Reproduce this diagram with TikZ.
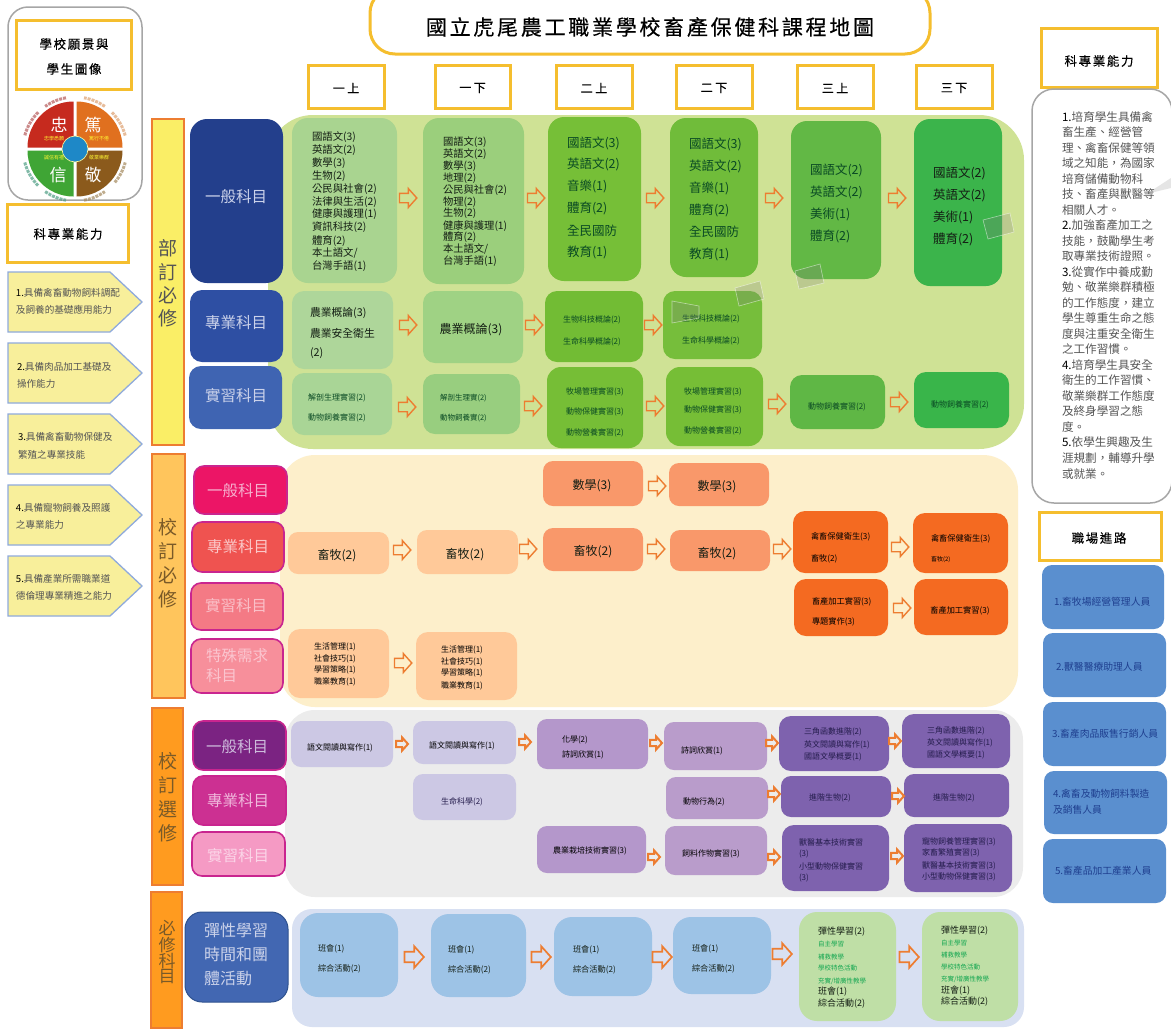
\documentclass[tikz,border=0pt]{standalone}
\usepackage{fontspec}
\setmainfont{Noto Sans CJK TC}
\definecolor{yb}{HTML}{F5BE2E}
\definecolor{og}{HTML}{ED7D31}
\definecolor{gb}{HTML}{A6A6A6}
\definecolor{pk}{HTML}{C9258F}
\definecolor{lab}{HTML}{CBD2EA}
\definecolor{ink}{HTML}{141E14}
\definecolor{tgn}{HTML}{0A4A24}
\definecolor{prp}{HTML}{241C4C}
\definecolor{glab}{HTML}{12A650}
\definecolor{gy}{HTML}{555555}
\definecolor{jb}{HTML}{1F3F8F}
\definecolor{pen}{HTML}{F8EF9B}
\definecolor{penb}{HTML}{8FAADC}
\definecolor{q1}{HTML}{C62A1E}
\definecolor{q2}{HTML}{E0701F}
\definecolor{q3}{HTML}{3FA535}
\definecolor{q4}{HTML}{8B5A1C}
\definecolor{r1}{HTML}{B65A5A}
\definecolor{r2}{HTML}{DDA070}
\definecolor{r3}{HTML}{4E9E84}
\definecolor{r4}{HTML}{A58A5E}
\definecolor{cc}{HTML}{1E88C7}
\definecolor{bedge}{HTML}{2F528F}
\definecolor{bb}{HTML}{7A5A28}
\definecolor{lc4}{HTML}{F6B0CE}
\definecolor{lc5}{HTML}{FBC8C8}
\definecolor{lc6}{HTML}{FAC0C8}
\definecolor{lc7}{HTML}{FBC5CF}
\definecolor{lc8}{HTML}{CDBCDC}
\definecolor{lc9}{HTML}{F0B8DC}
\definecolor{lc10}{HTML}{FBD5E8}
\newcount\tn
\tikzset{
 bxs/.style={inner sep=0pt,outer sep=0pt,rounded corners=10pt},
 yel/.style={rounded corners=0pt,draw=yb,line width=3pt},
 bar/.style={rounded corners=0pt,draw=og,line width=1.4pt},
 catb/.style={draw=pk,line width=1.6pt},
 arL/.style={draw=og,line width=1.4pt,miter limit=6},
 arS/.style={arL,line width=2pt,scale=.68},
 arB/.style={arL,line width=1.7pt,scale=1.12},
 tlx/.style={inner sep=0pt,outer sep=0pt,anchor=west,align=left},
 tcx/.style={inner sep=0pt,outer sep=0pt,anchor=center,align=center},
}
\newcommand\bx[7][]{\definecolor{tmpc}{HTML}{#7}\node[bxs,fill=tmpc,minimum width={#5pt-#3pt},minimum height={#6pt-#4pt},#1] (#2) at ({(#3+#5)/2},{(#4+#6)/2}) {};}
\newcommand\tl[5]{\global\advance\tn by 1 \node[tlx,text=#4] (t\the\tn) at ({#1},{#2}) {\fontsize{#3}{#3}\selectfont #5};}
\newcommand\tc[5]{\global\advance\tn by 1 \node[tcx,text=#4] (t\the\tn) at ({#1},{#2}) {\fontsize{#3}{#3}\selectfont #5};}
\newcommand\ml[4]{\foreach \yy/\ss in {#4}{\tl{#1}{\yy}{#2}{#3}{\ss}}}
\newcommand\mc[4]{\foreach \yy/\ss in {#4}{\tc{#1}{\yy}{#2}{#3}{\ss}}}
\newcommand\ar[3][arL]{\global\advance\tn by 1 \coordinate (a\the\tn) at (#2,#3);
 \draw[shift={(#2,#3)},#1] (-8.5,-4.7) -- (0.3,-4.7) -- (0.3,-9.5) -- (8.8,0) -- (0.3,9.5) -- (0.3,4.7) -- (-8.5,4.7) -- cycle;}
\newcommand\lsp[1]{\addfontfeatures{LetterSpace=#1,FakeBold=0.35}}
\newcommand\pg[1]{\draw[draw=penb,line width=1.3pt,fill=pen] (8,#1) -- (110,#1) -- (142,{#1+30}) -- (110,{#1+60}) -- (8,{#1+60}) -- cycle;}
\newcommand\patch[4]{\draw[draw=white,draw opacity=.5,line width=.6pt,fill=gray,fill opacity=.25] #1 -- #2 -- #3 -- #4 -- cycle;}
\begin{document}
\begin{tikzpicture}[x=1pt,y=-1pt]
\useasboundingbox (0,0) rectangle (1171,1029);
\fill[white] (0,0) rectangle (1171,1029);
% panels
\bx[rounded corners=45pt]{pG}{268}{115}{1024}{449}{CFE295}
\bx[rounded corners=35pt]{pY}{280}{455}{1018}{707}{FDEFCB}
\bx[rounded corners=30pt]{pP}{285}{710}{1023}{897}{ECECEC}
\bx[rounded corners=20pt]{pB}{292}{909}{1024}{1027}{D8E0F2}
% title and term headers
\bx[yel,rounded corners=25pt]{title}{370}{-12}{930}{54}{FFFFFF}
\tc{650}{27}{21}{black}{\lsp{13}國立虎尾農工職業學校畜產保健科課程地圖}
\foreach \xa/\xb/\s in {308/384/一上,435/510/一下,556/632/二上,676/752/二下,797/873/三上,916/992/三下}{
 \bx[yel]{hd\xa}{\xa}{65}{\xb}{108}{FFFFFF}
 \tc{(\xa+\xb)/2}{88}{12}{black}{\lsp{20}\s}
}
% left column
\bx[rounded corners=20pt,draw=gb,line width=1.5pt]{vis}{8}{7}{142}{200}{FFFFFF}
\bx[yel]{visT}{16}{20}{131}{89}{FFFFFF}
\mc{74}{12.5}{black}{44/\lsp{13}學校願景與,69/\lsp{13}學生圖像}
% disc
\fill[q1] (73.5,147.5) -- plot[domain=90:180,samples=16] ({73.5+46*cos(\x)},{147.5-46*sin(\x)}) -- cycle;
\fill[q2] (76.5,147.5) -- plot[domain=0:90,samples=16] ({76.5+46*cos(\x)},{147.5-46*sin(\x)}) -- cycle;
\fill[q3] (73.5,150.5) -- plot[domain=180:270,samples=16] ({73.5+46*cos(\x)},{150.5-46*sin(\x)}) -- cycle;
\fill[q4] (76.5,150.5) -- plot[domain=270:360,samples=16] ({76.5+46*cos(\x)},{150.5-46*sin(\x)}) -- cycle;
\begin{scope}[line width=3pt,dash pattern=on 3pt off 1pt,opacity=.7]
\draw[r1] plot[domain=100:125,samples=8] ({75+52*cos(\x)},{149-52*sin(\x)});
\draw[r1] plot[domain=135:165,samples=8] ({75+52*cos(\x)},{149-52*sin(\x)});
\draw[r2] plot[domain=55:80,samples=8] ({75+52*cos(\x)},{149-52*sin(\x)});
\draw[r2] plot[domain=15:45,samples=8] ({75+52*cos(\x)},{149-52*sin(\x)});
\draw[r3] plot[domain=195:225,samples=8] ({75+52*cos(\x)},{149-52*sin(\x)});
\draw[r3] plot[domain=235:260,samples=8] ({75+52*cos(\x)},{149-52*sin(\x)});
\draw[r4] plot[domain=280:305,samples=8] ({75+52*cos(\x)},{149-52*sin(\x)});
\draw[r4] plot[domain=320:345,samples=8] ({75+52*cos(\x)},{149-52*sin(\x)});
\end{scope}
\tc{59}{125}{17}{white}{忠}\tc{93}{125}{17}{white}{篤}\tc{58}{175}{17}{white}{信}\tc{93}{175}{17}{white}{敬}
\tc{54}{139}{5}{yellow!80!white}{忠學悉願}\tc{99}{139}{5}{yellow!80!white}{篤行不倦}
\tc{54}{158}{5}{yellow!80!white}{誠信有禮}\tc{99}{158}{5}{yellow!80!white}{敬業樂群}
\node[circle,fill=cc,draw=yellow!40!white,line width=.6pt,minimum size=26pt,inner sep=0pt] (discC) at (75,149) {};
% competences
\bx[yel]{compL}{7}{204}{128}{262}{FFFFFF}
\tc{68}{234}{12.5}{black}{\lsp{13}科專業能力}
\pg{272}\pg{343}\pg{414}\pg{485}\pg{556}
\ml{16}{9.6}{gy}{293/\textcolor{black}{1.}具備禽畜動物飼料調配,310/及飼養的基礎應用能力}
\ml{17}{9.6}{gy}{367/\textcolor{black}{2.}具備肉品加工基礎及,384/操作能力}
\ml{18}{9.6}{gy}{437/\textcolor{black}{3.}具備禽畜動物保健及,455/繁殖之專業技能}
\ml{16}{9.6}{gy}{508/\textcolor{black}{4.}具備寵物飼養及照護,525/之專業能力}
\ml{16}{9.6}{gy}{579/\textcolor{black}{5.}具備產業所需職業道,596/德倫理專業精進之能力}
% vertical bars
\bx[bar]{b1}{152}{119}{184}{445}{FAEE66}
\mc{168}{19}{gy}{248/部,272/訂,295/必,318/修}
\bx[bar]{b2}{152}{454}{185}{698}{FFC55C}
\mc{168}{19}{bb}{527/校,551/訂,575/必,599/修}
\bx[bar]{b3}{152}{708}{183}{885}{FF9B1F}
\mc{168}{19}{bb}{761/校,785/訂,809/選,833/修}
\bx[bar]{b4}{151}{892}{182}{1028}{FF9B1F}
\mc{167}{17}{bb}{928/必,945/修,961/科,977/目}
% category boxes
\bx[rounded corners=17pt]{c1}{190}{119}{283}{283}{233F8C}
\bx[rounded corners=12pt]{c2}{190}{290}{283}{362}{2E4FA3}
\bx[rounded corners=12pt]{c3}{189}{366}{282}{429}{3F64B2}
\bx[catb]{c4}{194}{466}{287}{514}{EC1566}
\bx[catb]{c5}{192}{522}{284}{572}{EF5350}
\bx[catb]{c6}{191}{583}{283}{630}{F47A85}
\bx[catb]{c7}{191}{639}{283}{693}{F78F9B}
\bx[catb]{c8}{193}{721}{286}{770}{7B2382}
\bx[catb]{c9}{193}{776}{286}{825}{CC3092}
\bx[catb]{c10}{192}{832}{285}{876}{F59AC4}
\bx[rounded corners=17pt,draw=bedge,line width=1pt]{c11}{185}{912}{288}{1002}{4267B2}
\tc{236}{197}{15.5}{lab}{一般科目}\tc{236}{323}{15.5}{lab}{專業科目}\tc{236}{396}{15.5}{lab}{實習科目}
\tc{238}{491}{15.5}{lc4}{一般科目}\tc{238}{547}{15.5}{lc5}{專業科目}\tc{236}{606}{15.5}{lc6}{實習科目}
\tl{206}{656}{15.5}{lc7}{特殊需求}\tl{206}{676}{15.5}{lc7}{科目}
\tc{237}{747}{15.5}{lc8}{一般科目}\tc{238}{801}{15.5}{lc9}{專業科目}\tc{238}{856}{15.5}{lc10}{實習科目}
\ml{204}{16}{lab}{930/彈性學習,954/時間和團,978/體活動}
% green row 1
\bx[rounded corners=16pt]{g11}{292}{118}{397}{283}{A9D490}
\bx[rounded corners=16pt]{g12}{423}{118}{524}{284}{9BCF7C}
\bx[rounded corners=16pt]{g13}{548}{117}{641}{281}{76BF37}
\bx[rounded corners=16pt]{g14}{670}{118}{758}{277}{70BC3A}
\bx[rounded corners=16pt]{g15}{791}{121}{881}{279}{62B845}
\bx[rounded corners=16pt]{g16}{914}{119}{1002}{286}{3BB44B}
\ml{312}{10.4}{ink}{137/國語文(3),150/英語文(2),163/數學(3),176/生物(2),189/公民與社會(2),202/法律與生活(2),214/健康與護理(1),227/資訊科技(2),241/體育(2)}
\tl{312}{253}{10.4}{ink}{本土語文/}\tl{312}{266}{10.4}{ink}{台灣手語(1)}
\ml{443}{10.3}{ink}{142/國語文(3),154/英語文(2),166/數學(3),178/地理(2),190/公民與社會(2),202/物理(2),213/生物(2),226/健康與護理(1),237/體育(2)}
\tl{443}{249}{10.3}{ink}{本土語文/}\tl{443}{261}{10.3}{ink}{台灣手語(1)}
\ml{567}{12.5}{tgn}{143/國語文(3),164/英語文(2),186/音樂(1),208/體育(2),231/全民國防,252/教育(1)}
\ml{689}{12.5}{tgn}{144/國語文(3),166/英語文(2),188/音樂(1),210/體育(2),232/全民國防,254/教育(1)}
\ml{810}{12.5}{tgn}{170/國語文(2),192/英語文(2),214/美術(1),236/體育(2)}
\ml{933}{12.5}{ink}{173/國語文(2),195/英語文(2),217/美術(1),239/體育(2)}
\ar{408}{198}\ar{536}{198}\ar{655}{198}\ar{774}{198}\ar{897}{198}
% green row 2
\bx[rounded corners=12pt]{g21}{292}{291}{393}{369}{AED69A}
\bx[rounded corners=12pt]{g22}{423}{291}{523}{363}{9FD284}
\bx[rounded corners=12pt]{g23}{545}{291}{643}{362}{72BC34}
\bx[rounded corners=12pt]{g24}{663}{291}{762}{359}{76BE3B}
\ml{310}{10.8}{ink}{313/農業概論(3),333/農業安全衛生,353/(2)}
\tc{471}{330}{12}{ink}{農業概論(3)}
\ml{563}{8}{tgn}{320/生物科技概論(2),342/生命科學概論(2)}
\ml{682}{8}{tgn}{319/生物科技概論(2),341/生命科學概論(2)}
\ar{408}{325}\ar{534}{325}\ar{653}{325}
% green row 3
\bx[rounded corners=12pt]{g31}{292}{373}{392}{435}{A9D596}
\bx[rounded corners=12pt]{g32}{423}{374}{520}{434}{98CE7F}
\bx[rounded corners=14pt]{g33}{547}{367}{643}{448}{76BE36}
\bx[rounded corners=14pt]{g34}{666}{367}{763}{446}{76BE36}
\bx[rounded corners=12pt]{g35}{790}{375}{885}{429}{5FB745}
\bx[rounded corners=12pt]{g36}{914}{372}{1009}{428}{39B54A}
\ml{308}{8}{tgn}{398/解剖生理實習(2),418/動物飼養實習(2)}
\ml{440}{7.5}{tgn}{398/解剖生理實(2),418/動物飼養實(2)}
\ml{566}{8}{tgn}{392/牧場管理實習(3),412/動物保健實習(3),433/動物營養實習(2)}
\ml{684}{8}{tgn}{392/牧場管理實習(3),410/動物保健實習(3),431/動物營養實習(2)}
\tc{837}{407}{8}{tgn}{動物飼養實習(2)}
\tc{960}{405}{8}{tgn}{動物飼養實習(2)}
\ar{407}{407}\ar{533}{406}\ar{655}{406}\ar{777}{404}\ar{899}{402}
% decorative patches
\patch{(983,220)}{(1010,213)}{(1014,232)}{(988,239)}
\patch{(795,271)}{(820,264)}{(824,283)}{(799,289)}
\patch{(735,288)}{(760,281)}{(764,299)}{(739,306)}
\patch{(672,301)}{(699,306)}{(699,318)}{(672,323)}
% yellow panel
\bx{y1}{543}{461}{643}{506}{F9986A}
\bx{y2}{669}{463}{769}{506}{F9986A}
\tc{592}{486}{12}{ink}{數學(3)}\tc{717}{487}{12}{ink}{數學(3)}
\ar{657}{486}
\bx{p1}{288}{532}{389}{574}{FFC999}
\bx{p2}{417}{530}{518}{574}{FFC999}
\bx{p3}{543}{528}{643}{571}{F9986A}
\bx{p4}{670}{530}{770}{571}{F9986A}
\tc{337}{556}{12}{ink}{畜牧(2)}\tc{465}{555}{12}{ink}{畜牧(2)}\tc{593}{552}{12}{ink}{畜牧(2)}\tc{717}{554}{12}{ink}{畜牧(2)}
\ar{402}{550}\ar{528}{549}\ar{656}{549}\ar{782}{549}
\bx[rounded corners=12pt]{p5}{793}{511}{888}{573}{F46A21}
\bx[rounded corners=12pt]{p6}{913}{513}{1008}{573}{F46A21}
\bx[rounded corners=12pt]{p7}{794}{579}{888}{636}{F46A21}
\bx[rounded corners=12pt]{p8}{914}{579}{1008}{635}{F46A21}
\ml{811}{8.2}{black}{537/禽畜保健衛生(3),559/畜牧(2)}
\tl{931}{539}{8.2}{black}{禽畜保健衛生(3)}\tl{931}{560}{6}{black}{畜牧(2)}
\ml{812}{8.2}{black}{602/畜產加工實習(3),622/專題實作(3)}
\tc{960}{611}{8.2}{black}{畜產加工實習(3)}
\ar{900}{547}\ar{902}{608}
\bx[rounded corners=12pt]{q1}{288}{629}{389}{698}{FFC999}
\bx[rounded corners=12pt]{q2}{416}{632}{517}{700}{FFC999}
\mc{335}{8}{black}{647/生活管理(1),659/社會技巧(1),670/學習策略(1),682/職業教育(1)}
\mc{462}{8}{black}{650/生活管理(1),662/社會技巧(1),673/學習策略(1),686/職業教育(1)}
\ar{403}{663}
% grey panel
\bx{e11}{291}{721}{393}{767}{CCC8E4}
\bx{e12}{413}{721}{516}{764}{CCC8E4}
\bx{e13}{537}{719}{648}{769}{B497CB}
\bx{e14}{664}{722}{767}{770}{B99CCB}
\bx[rounded corners=12pt]{e15}{779}{716}{889}{771}{7E62AE}
\bx[rounded corners=12pt]{e16}{902}{714}{1010}{768}{7E62AE}
\tc{340}{748}{8}{black}{語文閱讀與寫作(1)}\tc{462}{746}{8}{black}{語文閱讀與寫作(1)}
\ml{562}{8}{black}{740/化學(2),755/詩詞欣賞(1)}
\tl{681}{751}{8}{black}{詩詞欣賞(1)}
\ml{804}{8}{prp}{732/三角函數進階(2),745/英文閱讀與寫作(1),757/國語文學概要(1)}
\ml{927}{8}{prp}{731/三角函數進階(2),743/英文閱讀與寫作(1),755/國語文學概要(1)}
\ar[arS]{402}{744}\ar[arS]{525}{742}\ar[arS]{656}{743}\ar[arS]{772}{743}\ar[arS]{895}{741}
\bx{e21}{413}{774}{516}{820}{CCC8E4}
\bx{e22}{666}{777}{768}{819}{B99CCB}
\bx{e23}{781}{776}{891}{817}{7E62AE}
\bx{e24}{904}{774}{1009}{817}{7E62AE}
\tc{462}{802}{8}{prp}{生命科學(2)}
\tl{683}{802}{8}{black}{動物行為(2)}
\tl{809}{798}{8}{prp}{進階生物(2)}\tl{933}{798}{8}{prp}{進階生物(2)}
\ar[arS]{774}{794}\ar[arS]{898}{796}
\bx{e31}{537}{826}{646}{873}{B497CB}
\bx{e32}{665}{826}{767}{875}{B99CCB}
\bx[rounded corners=12pt]{e33}{782}{825}{889}{891}{7E62AE}
\bx[rounded corners=12pt]{e34}{904}{824}{1012}{892}{7E62AE}
\tl{553}{851}{8}{black}{農業栽培技術實習(3)}
\tl{682}{854}{8}{black}{飼料作物實習(3)}
\ml{799}{8}{prp}{842/獸醫基本技術實習,854/(3),866/小型動物保健實習,878/(3)}
\ml{922}{8}{prp}{842/寵物飼養管理實習(3),853/家畜繁殖實習(3),866/獸醫基本技術實習(3),877/小型動物保健實習(3)}
\ar[arS]{654}{857}\ar[arS]{774}{857}\ar[arS]{897}{856}
% blue panel
\bx[rounded corners=18pt]{f1}{300}{913}{398}{997}{9DC3E6}
\bx[rounded corners=18pt]{f2}{431}{914}{526}{997}{9DC3E6}
\bx[rounded corners=18pt]{f3}{554}{917}{652}{996}{9DC3E6}
\bx[rounded corners=18pt]{f4}{673}{917}{771}{994}{9DC3E6}
\bx[rounded corners=18pt]{f5}{799}{912}{896}{1021}{BFDFA6}
\bx[rounded corners=18pt]{f6}{922}{912}{1018}{1021}{BFDFA6}
\ml{318}{8.2}{ink}{949/班會(1),969/綜合活動(2)}
\ml{448}{8.2}{ink}{950/班會(1),970/綜合活動(2)}
\ml{573}{8.2}{ink}{950/班會(1),970/綜合活動(2)}
\ml{692}{8.2}{ink}{949/班會(1),969/綜合活動(2)}
\ar[arB]{414}{957}\ar[arB]{541}{957}\ar[arB]{662}{957}\ar[arB]{782}{954}\ar[arB]{909}{957}
\tl{818}{932}{9}{ink}{彈性學習(2)}\tl{941}{931}{9}{ink}{彈性學習(2)}
\ml{818}{6.5}{glab}{944/自主學習,957/補救教學,968/學校特色活動}
\tl{818}{981}{6.5}{glab}{充實/增廣性教學}
\ml{941}{6.5}{glab}{943/自主學習,955/補救教學,967/學校特色活動}
\tl{941}{979}{6.5}{glab}{充實/增廣性教學}
\ml{818}{9}{ink}{992/班會(1),1004/綜合活動(2)}
\ml{941}{9}{ink}{991/班會(1),1002/綜合活動(2)}
% right column
\bx[yel]{compR}{1041}{28}{1157}{87}{FFFFFF}
\tc{1099}{61}{12.5}{black}{\lsp{13}科專業能力}
\bx[rounded corners=22pt,draw=gb,line width=1.5pt]{goal}{1032}{89}{1172}{503}{FFFFFF}
\fill[black!10] (1148,193) -- (1171,178) -- (1171,188) -- (1150,193) -- cycle;
\ml{1062}{11.6}{gy}{117/\textcolor{black}{1.}培育學生具備禽,132.5/畜生產、經營管,148/理、禽畜保健等領,163.5/域之知能，為國家,179/培育儲備動物科,194.5/技、畜產與獸醫等,210/相關人才。,225.5/\textcolor{black}{2.}加強畜產加工之,241/技能，鼓勵學生考,256.5/取專業技術證照。,272/\textcolor{black}{3.}從實作中養成勤,287.5/勉、敬業樂群積極,303/的工作態度，建立,318.5/學生尊重生命之態,334/度與注重安全衛生,349.5/之工作習慣。,365/\textcolor{black}{4.}培育學生具安全,380.5/衛生的工作習慣、,396/敬業樂群工作態度,411.5/及終身學習之態,427/度。,442.5/\textcolor{black}{5.}依學生興趣及生,458/涯規劃，輔導升學,474/或就業。}
\bx[yel]{jobT}{1039}{512}{1161}{560}{FFFFFF}
\tc{1099}{538}{12.5}{black}{\lsp{13}職場進路}
\bx{j1}{1042}{565}{1164}{629}{5A8FCF}
\bx{j2}{1043}{633}{1166}{697}{5A8FCF}
\bx{j3}{1043}{702}{1166}{766}{5A8FCF}
\bx{j4}{1044}{771}{1167}{834}{5A8FCF}
\bx{j5}{1043}{839}{1166}{903}{5A8FCF}
\tl{1054}{602}{9.8}{jb}{1.畜牧場經營管理人員}
\tl{1056}{667}{9.8}{jb}{2.獸醫醫療助理人員}
\tl{1052}{734}{9.8}{jb}{3.畜產肉品販售行銷人員}
\tl{1053}{794}{9.8}{jb}{4.禽畜及動物飼料製造}
\tl{1053}{810}{9.8}{jb}{及銷售人員}
\tl{1055}{871}{9.8}{jb}{5.畜產品加工產業人員}
\end{tikzpicture}
\end{document}
